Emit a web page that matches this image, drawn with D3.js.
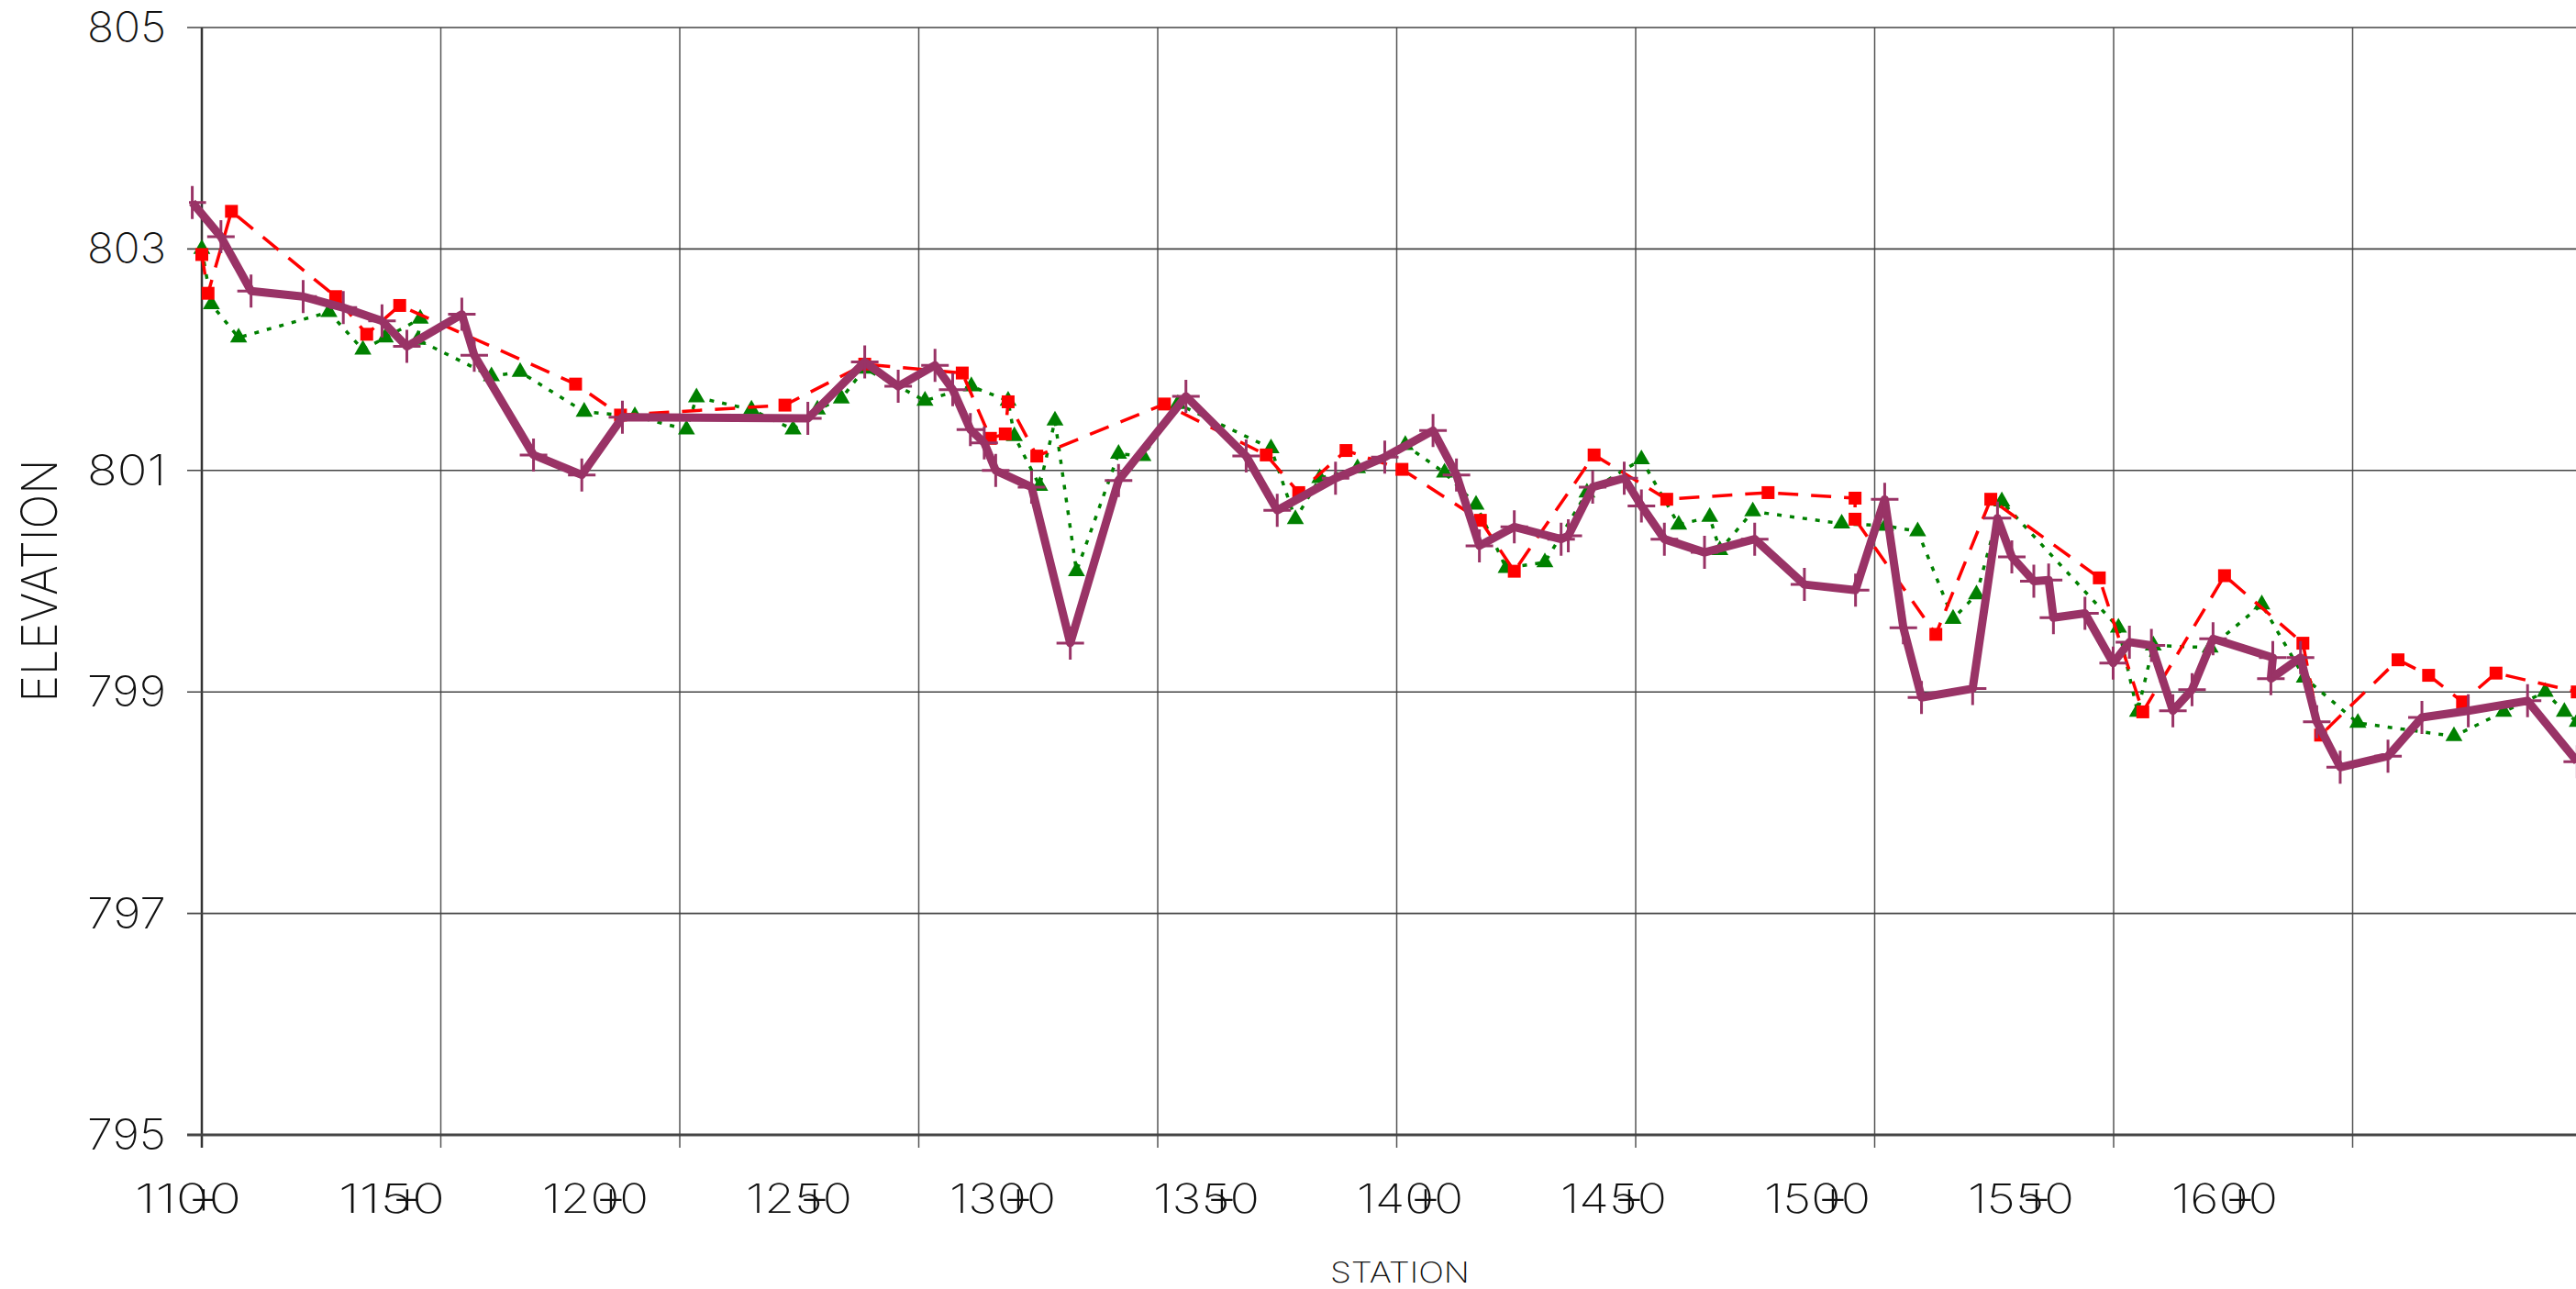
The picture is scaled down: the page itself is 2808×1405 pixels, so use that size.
<!DOCTYPE html>
<html><head><meta charset="utf-8">
<script src="https://cdn.jsdelivr.net/npm/d3@7"></script>
<style>html,body{margin:0;padding:0;background:#fff}svg{display:block}text{font-family:Inter,"DejaVu Sans",sans-serif;font-weight:200;fill:#111}</style>
</head><body><svg id="c" width="2808" height="1405"></svg>
<script>
const yTicks=[795,797,799,801,803,805];
const xGrid=[1100,1150,1200,1250,1300,1350,1400,1450,1500,1550];
const xLabels=["11+00","11+50","12+00","12+50","13+00","13+50","14+00","14+50","15+00","15+50","16+00"];
const xLabelStations=[1100,1150,1200,1250,1300,1350,1400,1450,1500,1550,1600];
const purpleSt=[1098,1104.0,1110.3,1121.2,1129.6,1137.7,1142.9,1154.4,1157.0,1169.4,1179.5,1188.0,1226.8,1238.7,1245.7,1253.4,1257.1,1260.8,1263.7,1266.1,1273.6,1281.7,1291.8,1305.9,1318.5,1325.0,1337.2,1347.5,1357.6,1362.5,1367.3,1374.6,1384.4,1385.9,1391.0,1397.6,1401.2,1406.0,1414.4,1424.9,1435.3,1446.0,1452.1,1456.0,1459.8,1470.5,1475.7,1478.7,1483.3,1486.4,1487.4,1494.0,1499.9,1503.3,1507.9,1512.4,1516.4,1520.8,1533.3,1532.9,1539.1,1542.5,1547.4,1557.4,1564.5,1574.2,1586.6,1597];
const purpleEl=[803.42,803.11,802.62,802.57,802.47,802.35,802.12,802.41,802.04,801.14,800.96,801.48,801.47,801.98,801.76,801.95,801.73,801.37,801.25,801.0,800.85,799.44,800.91,801.67,801.13,800.64,800.93,801.12,801.36,800.96,800.32,800.49,800.38,800.41,800.85,800.93,800.68,800.38,800.26,800.38,799.97,799.92,800.74,799.58,798.95,799.03,800.57,800.22,800.0,800.01,799.67,799.71,799.26,799.45,799.42,798.83,799.02,799.48,799.31,799.12,799.31,798.73,798.32,798.42,798.77,798.83,798.92,798.37];
const redSt=[1100,1101.3,1106.2,1128.0,1134.5,1141.4,1178.2,1187.6,1222.0,1238.7,1259.1,1265.0,1268.1,1268.7,1274.7,1301.4,1322.7,1329.5,1339.4,1351.1,1367.5,1374.6,1391.3,1406.5,1427.7,1445.9,1445.9,1462.8,1474.3,1497.0,1506.1,1523.2,1539.6,1543.3,1559.5,1565.9,1573.0,1580.0,1597];
const redEl=[802.95,802.6,803.34,802.57,802.23,802.49,801.78,801.50,801.59,801.96,801.88,801.29,801.33,801.62,801.13,801.6,801.14,800.80,801.18,801.01,800.55,800.09,801.14,800.74,800.80,800.75,800.56,799.52,800.74,800.03,798.82,800.05,799.44,798.61,799.29,799.15,798.91,799.17,799.0];
const greenSt=[1100,1102.0,1107.7,1126.6,1133.7,1138.4,1145.7,1145.2,1160.6,1166.6,1180.0,1190.6,1201.4,1203.5,1215.0,1223.7,1228.8,1233.8,1238.7,1251.3,1261.0,1268.7,1270.0,1275.3,1278.5,1283.0,1291.8,1296.9,1304.2,1323.7,1328.8,1333.9,1341.8,1351.8,1360,1366.6,1372.9,1381.0,1389.8,1401.2,1409.0,1415.5,1417.6,1424.5,1443.1,1452.3,1459.0,1466.4,1471.3,1476.6,1501.0,1505.0,1508.3,1520.2,1531.0,1539.9,1551.1,1571.2,1581.6,1590.3,1594.3,1597];
const greenEl=[803.0,802.50,802.20,802.43,802.09,802.2,802.37,802.18,801.85,801.89,801.53,801.49,801.37,801.66,801.55,801.37,801.55,801.65,801.92,801.63,801.76,801.63,801.31,800.86,801.45,800.09,801.15,801.13,801.60,801.20,800.56,800.93,801.02,801.23,800.98,800.69,800.12,800.17,800.80,801.10,800.51,800.58,800.28,800.63,800.52,800.50,800.45,799.66,799.88,800.72,799.58,798.82,799.42,799.40,799.79,799.13,798.72,798.60,798.82,799.0,798.82,798.73];

const svg=d3.select("#c");
const L=220,R=2808,T=30,B=1237;
const x=d3.scaleLinear().domain([1100,1600]).range([L,L+10*260.5]);
const y=d3.scaleLinear().domain([795,805]).range([B,T]);
const xl=d3.scaleLinear().domain([1100,1600]).range([205,2425]);

const g=svg.append("g");
g.selectAll("line.v").data(xGrid).join("line").attr("x1",d=>x(d)).attr("x2",d=>x(d)).attr("y1",T).attr("y2",B+14)
 .attr("stroke",(d,i)=>i===0?"#333":"#555").attr("stroke-width",(d,i)=>i===0?2.5:1.5);
g.selectAll("line.h").data(yTicks).join("line").attr("x1",L-16).attr("x2",R).attr("y1",d=>y(d)).attr("y2",d=>y(d))
 .attr("stroke","#444").attr("stroke-width",(d)=>d===795?3:1.6);
svg.append("g").selectAll("text").data(yTicks).join("text").attr("x",181).attr("y",d=>y(d)+16)
 .attr("text-anchor","end").attr("font-size",46).attr("textLength",86).attr("lengthAdjust","spacingAndGlyphs").text(d=>d);
const xg=svg.append("g");
xLabels.forEach((t,i)=>{
  const cx=xl(xLabelStations[i]);
  const parts=t.split("+");
  const txt=xg.append("text").attr("x",cx-58).attr("y",1322).attr("font-size",44).attr("textLength",116).attr("lengthAdjust","spacingAndGlyphs");
  txt.text(parts[0]+parts[1]);
  xg.append("text").attr("x",cx+17).attr("y",1323).attr("text-anchor","middle").attr("font-size",54).attr("font-weight",300).text("+");
});
svg.append("text").attr("x",1526).attr("y",1398).attr("text-anchor","middle").attr("font-size",31).attr("textLength",152).attr("lengthAdjust","spacingAndGlyphs").text("STATION");
svg.append("text").attr("transform","translate(62,633) rotate(-90)").attr("text-anchor","middle").attr("font-size",54).attr("textLength",265).attr("lengthAdjust","spacingAndGlyphs").text("ELEVATION");

svg.append("clipPath").attr("id","clip").append("rect").attr("x",L-14).attr("y",0).attr("width",R-L+14).attr("height",B);
const p=svg.append("g").attr("clip-path","url(#clip)");
const line=d3.line().x(d=>x(d[0])).y(d=>y(d[1]));
const green=d3.zip(greenSt,greenEl), red=d3.zip(redSt,redEl), purple=d3.zip(purpleSt,purpleEl);
p.append("path").datum(green).attr("d",line).attr("fill","none").attr("stroke","#008000").attr("stroke-width",3.5).attr("stroke-dasharray","5,9");
p.selectAll("path.tri").data(green).join("path").attr("d",d3.symbol(d3.symbolTriangle,150)).attr("transform",d=>`translate(${x(d[0])},${y(d[1])})`).attr("fill","#008000");
p.append("path").datum(red).attr("d",line).attr("fill","none").attr("stroke","#ff0000").attr("stroke-width",3.5).attr("stroke-dasharray","22,14");
p.selectAll("rect.sq").data(red).join("rect").attr("x",d=>x(d[0])-7).attr("y",d=>y(d[1])-7).attr("width",14).attr("height",14).attr("fill","#ff0000");
p.append("path").datum(purple).attr("d",line).attr("fill","none").attr("stroke","#993366").attr("stroke-width",9).attr("stroke-linejoin","round");
p.selectAll("path.cr").data(purple).join("path").attr("d","M-15,0H15M0,-18V18").attr("transform",d=>`translate(${x(d[0])},${y(d[1])})`).attr("stroke","#993366").attr("stroke-width",3);
</script></body></html>
